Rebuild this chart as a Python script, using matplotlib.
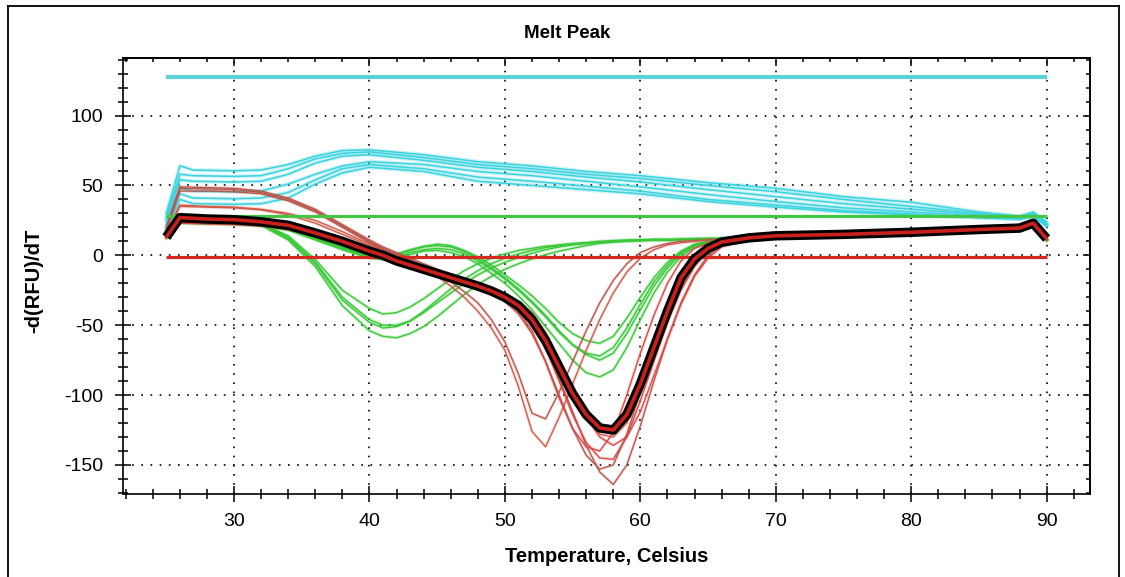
import matplotlib
matplotlib.use("Agg")
import matplotlib.pyplot as plt
from matplotlib.lines import Line2D
from matplotlib.ticker import MultipleLocator

plt.rcParams['font.family'] = ['Liberation Sans', 'DejaVu Sans']
plt.rcParams['axes.unicode_minus'] = False

# ---------------------------------------------------------------- data
# temperature grid shared by the green / red / highlighted traces
T_MELT = [25, 26, 28, 30, 32, 34, 36, 38, 40, 41, 42, 43, 44, 45, 46, 47, 48, 49,
          50, 51, 52, 53, 54, 55, 56, 57, 58, 59, 60, 61, 62, 63, 64, 65, 66, 68,
          70, 75, 80, 85, 88, 89, 90]

# temperature grid of the cyan traces
T_CYAN = [25, 26, 27, 30, 32, 34, 36, 38, 40, 44, 48, 52, 56, 60, 65, 70, 75, 80,
          85, 88, 89, 90]

# highlighted well
selected = [13, 27, 26, 25.5, 24, 21.5, 16, 10, 3, 0, -4, -7, -10, -13, -16, -19,
            -22, -25.5, -30, -36, -46, -61, -80, -99, -114, -123.5, -125, -114,
            -92, -66, -40, -16, -2.5, 5, 9.5, 12.5, 14, 15, 16.5, 18.5, 19.5, 23, 12]

cyan_c1 = [30, 64, 61, 60.5, 61, 65, 71, 75, 75.5, 72, 67, 64, 60, 57, 52, 48, 42, 38, 31, 28, 31, 24]
cyan_c2 = [27, 58, 57, 56.5, 57, 62, 69, 73, 74, 70, 65, 62, 58, 55, 50, 45.5, 40, 35, 30, 27.5, 30, 23]
cyan_c3 = [25, 54, 53, 52.5, 53, 58, 66, 71, 72, 68, 63, 60, 56, 52.5, 47, 42, 37, 33, 29, 27, 29, 22]
cyan_c4 = [22, 48, 46, 45.5, 46, 51, 58, 64, 67, 65, 60, 57, 53, 49, 43.5, 38.5, 34, 31, 28, 26.5, 29, 22]
cyan_c5 = [20, 44, 41, 40.5, 41, 45, 54, 62, 65, 62, 56, 53, 49.5, 46, 40, 36, 32, 29.5, 27, 26, 28, 21]
cyan_c6 = [18, 40, 37, 36.5, 37, 41, 51, 59, 63, 60, 53, 50, 47, 44, 38.5, 34.5, 31, 29, 27, 26, 28, 21]

green_g1 = [14, 25, 24.5, 24, 22.5, 14, -3, -25, -38, -42, -41, -37, -31, -24, -17, -11, -6, -2,
            1, 3.5, 5, 6.5, 7.5, 8.5, 9, 9.5, 10, 10.5, 10.5, 11, 11, 11, 11.5, 11.5, 12, 12.5,
            13.5, 14.5, 16, 18, 19, 22, 11]
green_g2 = [13, 24, 23.5, 23, 22, 13, -5, -30, -46, -50, -50, -47, -41, -34, -27, -20, -14, -9,
            -5, -1.5, 1.5, 4, 6, 7.5, 8.5, 9.5, 10, 10.5, 11, 11, 11, 11.5, 11.5, 12, 12, 12.5,
            13.5, 14.5, 16, 18, 19, 22, 11]
green_g3 = [14, 25, 24, 23.5, 22, 12, -6, -32, -48, -52, -51, -47, -40, -32, -24, -17, -11, -6,
            -2, 1, 3.5, 5.5, 7, 8, 9, 10, 10.5, 11, 11, 11.5, 11.5, 11.5, 12, 12, 12, 12.5,
            13.5, 14.5, 16, 18, 19, 22, 11]
green_g4 = [13, 24, 23.5, 23, 21.5, 11, -8, -36, -54, -58, -59, -56, -51, -44, -36, -28, -21, -15,
            -10, -6, -2.5, 0.5, 3, 5, 7, 8.5, 9.5, 10, 10.5, 11, 11, 11.5, 11.5, 12, 12, 12.5,
            13.5, 14.5, 16, 18, 19, 22, 11]
green_g5 = [14, 24, 23.5, 23, 22, 19, 13, 6, 0, -1, 1, 4, 6.5, 8, 7, 3.5, -1, -7,
            -14, -21, -29, -38, -48, -56, -61, -63, -58, -45, -30, -16, -5, 3, 8, 10, 11, 12.5,
            13.5, 14.5, 16, 18, 19, 22, 11]
green_g6 = [13, 23.5, 23, 22.5, 21.5, 18.5, 12, 5, -1.5, -2.5, -1, 2, 4, 5, 4, 1, -4, -10,
            -17, -25, -34, -44, -55, -64, -70, -72, -66, -52, -35, -19, -7, 2, 7.5, 10, 11, 12.5,
            13.5, 14.5, 16, 18, 19, 22, 11]
green_g7 = [14, 24, 23.5, 23, 22, 19, 12.5, 5.5, -0.5, -1.5, 0.5, 3.5, 6, 7, 6, 2.5, -2.5, -9,
            -16, -24, -33, -43, -54, -64, -71, -75, -70, -56, -39, -22, -9, 1, 7, 9.5, 11, 12.5,
            13.5, 14.5, 16, 18, 19, 22, 11]
green_g8 = [13, 23, 22.5, 22, 21, 18, 11, 4, -2, -3, -2, 0.5, 3, 3.5, 2, -1, -6, -13,
            -20, -29, -39, -51, -63, -75, -84, -87, -82, -66, -46, -27, -12, -1, 6, 9.5, 11, 12.5,
            13.5, 14.5, 16, 18, 19, 22, 11]

red_r1 = [18, 48, 47.5, 47, 45, 40, 32, 21, 10, 5, 1, -3, -8, -13, -19, -26, -34, -46,
          -62, -85, -113, -117, -98, -76, -54, -34, -18, -6, 2, 6, 8.5, 10, 10.5, 11, 11.5, 12.5,
          13.5, 14.5, 16, 18, 19, 22.5, 11]
red_r2 = [16, 36, 35, 34.5, 33, 30, 25, 17, 8, 4, 0, -4, -9, -15, -22, -30, -40, -52,
          -68, -94, -126, -137, -116, -92, -68, -46, -27, -12, -2, 4, 7.5, 9, 10, 11, 11.5, 12.5,
          13.5, 14.5, 16, 18, 19, 22, 11.5]
red_r3 = [19, 46, 46, 45.5, 44, 39, 31, 20, 9, 4, 0, -4, -8, -12, -16, -20, -24, -28,
          -33, -40, -50, -66, -88, -112, -136, -155, -164, -150, -122, -90, -60, -34, -14, 0, 7, 11.5,
          13, 14.5, 16, 18, 19.5, 23, 12]
red_r4 = [14, 24, 23.5, 23, 22, 19.5, 15, 9, 2.5, -0.5, -4.5, -7.5, -10.5, -13.5, -16.5, -19.5, -23, -27,
          -31, -37, -48, -66, -90, -114, -134, -145, -146, -130, -104, -76, -48, -25, -8, 3, 8, 12,
          13.5, 15, 16.5, 18.5, 19.5, 23.5, 12.5]
red_r5 = [12, 25, 24.5, 24, 23, 20.5, 15.5, 9.5, 3, 0, -3.5, -7, -10, -13, -16, -19.5, -23, -27,
          -32, -40, -54, -76, -102, -124, -137, -140, -127, -100, -70, -43, -20, -4, 5, 8.5, 10, 12,
          13.5, 14.5, 16, 18, 19, 22.5, 11.5]
red_r6 = [13, 23, 22.5, 22, 21, 18.5, 14, 8, 2, -1, -4.5, -7.5, -10.5, -13.5, -16.5, -19.5, -22.5, -25.5,
          -28, -33, -41, -55, -74, -96, -116, -130, -136, -130, -112, -86, -60, -35, -15, -2, 6, 11,
          13, 14.5, 16, 18, 19, 22.5, 12]
red_r7 = [20, 49, 48.5, 48, 46, 41, 33, 22, 11, 6, 2, -2, -6, -10, -14, -18, -22, -27,
          -33, -42, -56, -76, -100, -124, -143, -153, -150, -128, -98, -68, -42, -20, -5, 4, 8.5, 12,
          13.5, 14.5, 16, 18, 19, 22.5, 11.5]
red_r8 = [15, 35, 34.5, 34, 32.5, 29, 23, 15, 7, 3, -1, -5, -9, -13, -16.5, -20, -23.5, -27,
          -31, -37, -46, -60, -78, -98, -116, -128, -130, -120, -98, -72, -46, -23, -6, 4, 9, 12,
          13.5, 14.5, 16, 18, 19, 22.5, 11.5]

# threshold levels
cyan_level = 127.5
green_level = 28
red_level = -1.5
THRESH_T = [25, 90]

X_TICKS = [30, 40, 50, 60, 70, 80, 90]
Y_TICKS = [-150, -100, -50, 0, 50, 100]

# ---------------------------------------------------------------- figure
W, H = 1125, 577
fig = plt.figure(figsize=(W / 100, H / 100), dpi=100)
fig.patch.set_facecolor('white')

ax_l, ax_r, ax_t, ax_b = 123, 1090, 58.3, 494.3
ax = fig.add_axes([ax_l / W, 1 - ax_b / H, (ax_r - ax_l) / W, (ax_b - ax_t) / H])
ax.set_xlim(21.8, 93.2)
ax.set_ylim(-171, 141)

cyan_col = '#3ad3de'
green_col = '#38c838'
red_col = '#dc4646'
brown_col = '#b8544a'
rust_col = '#cf5a48'

for ys in [cyan_c6, cyan_c5, cyan_c4, cyan_c3, cyan_c2, cyan_c1]:
    ax.plot(T_CYAN, ys, color=cyan_col, lw=3.0, alpha=0.25, zorder=2, solid_joinstyle='round')
    ax.plot(T_CYAN, ys, color=cyan_col, lw=1.1, zorder=2.05, solid_joinstyle='round')

for ys in [green_g1, green_g2, green_g3, green_g4, green_g5, green_g6, green_g7, green_g8]:
    ax.plot(T_MELT, ys, color=green_col, lw=2.6, alpha=0.2, zorder=2.2)
    ax.plot(T_MELT, ys, color=green_col, lw=1.0, zorder=2.25)

red_set = [(red_r1, brown_col), (red_r2, rust_col), (red_r3, brown_col), (red_r4, red_col),
           (red_r5, red_col), (red_r6, red_col), (red_r7, brown_col), (red_r8, rust_col)]
for ys, col in red_set:
    ax.plot(T_MELT, ys, color=col, lw=2.4, alpha=0.18, zorder=2.4)
    ax.plot(T_MELT, ys, color=col, lw=0.95, zorder=2.45)

# threshold lines
ax.plot(THRESH_T, [cyan_level] * 2, color='#5ad2d8', lw=3.0, zorder=3, solid_capstyle='butt')
ax.plot(THRESH_T, [green_level] * 2, color='#44c644', lw=2.3, zorder=3, solid_capstyle='butt')
ax.plot(THRESH_T, [red_level] * 2, color='#d42a22', lw=2.3, zorder=3, solid_capstyle='butt')

# highlighted trace: black outline with red core
ax.plot(T_MELT, selected, color='black', lw=6.8, zorder=4, solid_joinstyle='round',
        solid_capstyle='butt')
ax.plot(T_MELT, selected, color='#c8201c', lw=2.6, zorder=4.1, solid_joinstyle='round',
        solid_capstyle='butt')

# ---------------------------------------------------------------- axes styling
ax.set_xticks(X_TICKS)
ax.set_yticks(Y_TICKS)
ax.xaxis.set_minor_locator(MultipleLocator(2))
ax.yaxis.set_minor_locator(MultipleLocator(10))

for sp in ax.spines.values():
    sp.set_linewidth(1.2)
    sp.set_color('black')

ax.tick_params(which='major', direction='inout', length=11.5, width=1.1,
               labelsize=14, colors='black')
ax.tick_params(which='minor', direction='inout', length=7, width=1.1)
ax.tick_params(axis='x', which='major', pad=7.5)
ax.tick_params(axis='y', which='major', pad=8.5)

top = ax.secondary_xaxis('top')
top.set_xticks(X_TICKS)
top.xaxis.set_minor_locator(MultipleLocator(2))
top.tick_params(which='major', direction='in', length=5.8, width=1.1, labeltop=False)
top.tick_params(which='minor', direction='in', length=2.8, width=1.1)
top.spines['top'].set_linewidth(1.2)

right = ax.secondary_yaxis('right')
right.set_yticks(Y_TICKS)
right.yaxis.set_minor_locator(MultipleLocator(10))
right.tick_params(which='major', direction='in', length=5.0, width=1.1, labelright=False)
right.tick_params(which='minor', direction='in', length=2.6, width=1.1)
right.spines['right'].set_linewidth(1.2)

ax.grid(which='major', color='black', linestyle=(0, (1, 4.5)), linewidth=1.2)
ax.set_axisbelow(True)

ax.set_xlabel('Temperature, Celsius', fontsize=14.5, fontweight='bold', va='center')
ax.xaxis.set_label_coords(0.5, -(556 - ax_b) / (ax_b - ax_t))
ax.set_ylabel('-d(RFU)/dT', fontsize=14.5, fontweight='bold', va='center', ha='center')
ax.yaxis.set_label_coords(-(ax_l - 34) / (ax_r - ax_l), 0.49)

fig.text(567 / W, 1 - 33 / H, 'Melt Peak', ha='center', va='center',
         fontsize=13.5, fontweight='bold')

# window frame around the plot panel
frame_kw = dict(transform=fig.transFigure, color='black', lw=1.3)
fig.add_artist(Line2D([8 / W, 8 / W], [0, 1 - 6 / H], **frame_kw))
fig.add_artist(Line2D([8 / W, 1119 / W], [1 - 6 / H, 1 - 6 / H], **frame_kw))
fig.add_artist(Line2D([1119 / W, 1119 / W], [0, 1 - 6 / H], **frame_kw))

fig.savefig('out.png', dpi=100, facecolor='white')
